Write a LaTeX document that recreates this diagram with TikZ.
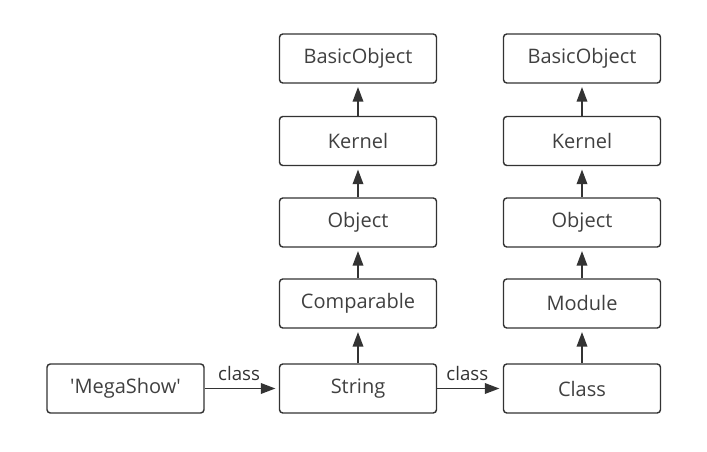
\documentclass[tikz,border=0pt]{standalone}
\usepackage{fontspec}
\setmainfont{Open Sans}
\usetikzlibrary{arrows.meta}
\definecolor{ln}{HTML}{333333}
\definecolor{tx}{HTML}{404040}
\tikzset{
  box/.style={draw=ln, line width=1.1pt, rounded corners=2.5pt, minimum width=157*0.75pt, minimum height=49*0.75pt, inner sep=0pt, text=tx, font=\fontsize{15}{18}\selectfont},
  conn/.style={draw=ln, line width=1.1pt, -{Triangle[length=11pt,width=8pt]}, shorten >=2.5pt},
  lbl/.style={text=ln, font=\fontsize{14}{16}\selectfont, inner sep=0pt}
}
\begin{document}
\begin{tikzpicture}[x=0.75pt,y=-0.75pt]
\useasboundingbox (0,0) rectangle (707,452);
\node[box] (mega) at (125.5,388.5) {\textquotesingle MegaShow\textquotesingle};
\node[box] (string) at (358,388.5) {String};
\node[box] (comp) at (358,303.5) {Comparable};
\node[box] (obj1) at (358,222.5) {Object};
\node[box] (ker1) at (358,141) {Kernel};
\node[box] (bo1) at (358,58.5) {BasicObject};
\node[box] (class) at (582,388.5) {Class};
\node[box] (mod) at (582,303.5) {Module};
\node[box] (obj2) at (582,222.5) {Object};
\node[box] (ker2) at (582,141) {Kernel};
\node[box] (bo2) at (582,58.5) {BasicObject};
\draw[conn] (mega) -- node[lbl, above=5pt, xshift=-2pt] {class} (string);
\draw[conn] (string) -- node[lbl, above=5pt, xshift=-2pt] {class} (class);
\draw[conn] (string) -- (comp);
\draw[conn] (comp) -- (obj1);
\draw[conn] (obj1) -- (ker1);
\draw[conn] (ker1) -- (bo1);
\draw[conn] (class) -- (mod);
\draw[conn] (mod) -- (obj2);
\draw[conn] (obj2) -- (ker2);
\draw[conn] (ker2) -- (bo2);
\end{tikzpicture}
\end{document}
